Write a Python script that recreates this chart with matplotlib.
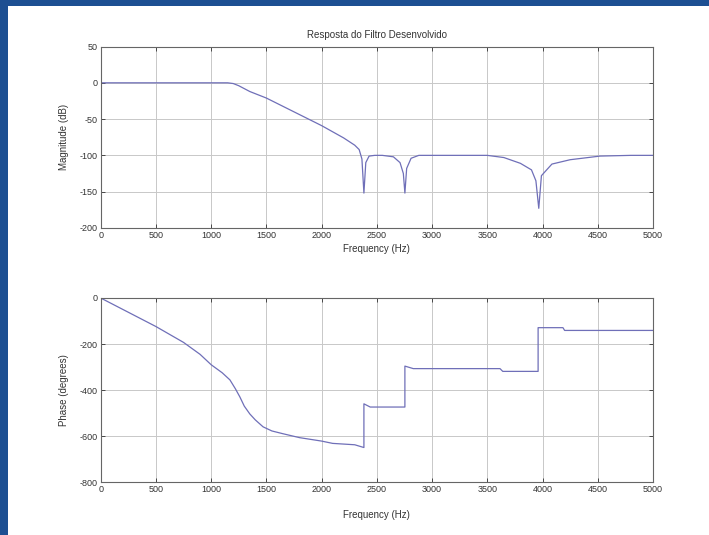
"""Frequency response (magnitude and phase) of the designed filter, MATLAB freqz style."""
import matplotlib.pyplot as plt
from matplotlib.patches import Rectangle

# Magnitude response (Hz, dB)
MAG_FREQ = [0, 1150, 1200, 1250, 1350, 1500, 1750, 2000, 2200, 2300, 2340,
            2365, 2383, 2400, 2430, 2480, 2550, 2650, 2710, 2740, 2754, 2770,
            2810, 2880, 3000, 3300, 3500, 3650, 3800, 3900, 3940, 3966, 3990,
            4085, 4250, 4520, 4800, 5000]
MAG_DB = [0, 0, -1, -4, -12, -21, -40, -59, -76, -86, -92,
          -105, -152, -110, -101, -100, -100, -102, -110, -125, -152, -118,
          -104, -100, -100, -100, -100, -103, -111, -120, -135, -173, -128,
          -112, -106, -101, -100, -100]

# Phase response (Hz, degrees)
PH_FREQ = [0, 250, 500, 750, 900, 1000, 1100, 1170, 1220, 1260, 1300, 1350,
           1400, 1470, 1550, 1650, 1800, 2000, 2100, 2300, 2383, 2383, 2440,
           2754, 2754, 2830, 3615, 3640, 3960, 3960, 4185, 4200, 5000]
PH_DEG = [0, -62, -124, -193, -245, -290, -325, -356, -395, -430, -470, -504,
          -530, -560, -578, -590, -607, -622, -632, -638, -650, -460, -474,
          -474, -296, -307, -307, -319, -319, -129, -129, -141, -141]

FREQ_TICKS = list(range(0, 5001, 500))
MAG_TICKS = [50, 0, -50, -100, -150, -200]
PH_TICKS = [0, -200, -400, -600, -800]

LINE_COLOR = "#6f6fb8"
GRID_COLOR = "#c8c8c8"


def style_axes(ax):
    ax.set_xlim(0, 5000)
    ax.set_xticks(FREQ_TICKS)
    ax.grid(True, color=GRID_COLOR, linewidth=0.7)
    ax.tick_params(direction="in", top=True, right=True, labelsize=6.5,
                   length=3, width=0.6, colors="#333333", pad=2)
    for s in ax.spines.values():
        s.set_color("#666666")
        s.set_linewidth(0.8)
    ax.set_xlabel("Frequency (Hz)", fontsize=7, color="#333333", labelpad=3)


def main():
    plt.rcParams["font.family"] = ["Liberation Sans", "DejaVu Sans"]
    plt.rcParams["axes.unicode_minus"] = False
    fig = plt.figure(figsize=(7.09, 5.35), dpi=100, facecolor="#1d4f92")
    # white slide panel behind the MATLAB figure
    fig.patches.append(Rectangle((8 / 709, 0), 1, 1 - 6 / 535,
                                 transform=fig.transFigure, facecolor="white",
                                 edgecolor="none", zorder=-5))

    ax1 = fig.add_axes([0.142, 0.574, 0.779, 0.339])
    ax1.plot(MAG_FREQ, MAG_DB, color=LINE_COLOR, linewidth=0.9)
    ax1.set_ylim(-200, 50)
    ax1.set_yticks(MAG_TICKS)
    style_axes(ax1)
    ax1.set_ylabel("Magnitude (dB)", fontsize=7, color="#333333")
    ax1.yaxis.set_label_coords(-0.058, 0.5)
    ax1.set_title("Resposta do Filtro Desenvolvido", fontsize=7,
                  color="#333333", pad=6)

    ax2 = fig.add_axes([0.142, 0.099, 0.779, 0.344])
    ax2.plot(PH_FREQ, PH_DEG, color=LINE_COLOR, linewidth=0.9)
    ax2.set_ylim(-800, 0)
    ax2.set_yticks(PH_TICKS)
    style_axes(ax2)
    ax2.xaxis.labelpad = 12
    ax2.set_ylabel("Phase (degrees)", fontsize=7, color="#333333")
    ax2.yaxis.set_label_coords(-0.058, 0.5)

    fig.savefig("out.png", dpi=100, facecolor=fig.get_facecolor())


if __name__ == "__main__":
    main()
